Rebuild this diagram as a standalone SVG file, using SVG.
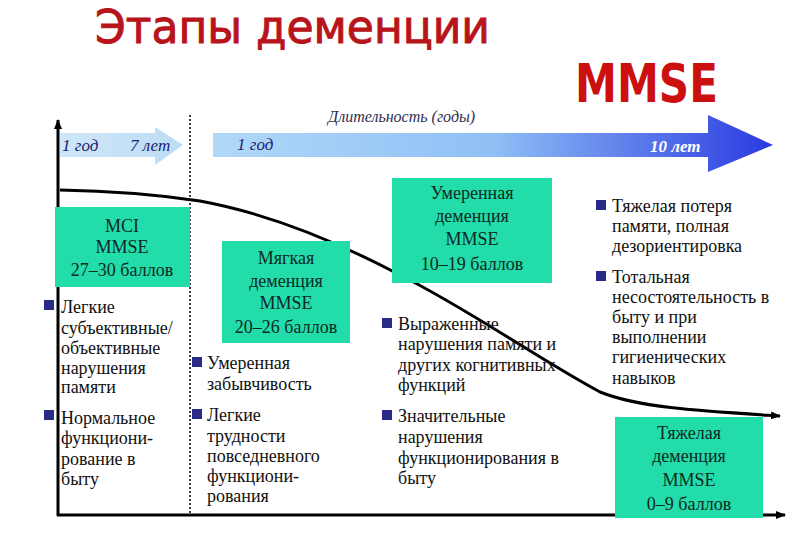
<svg xmlns="http://www.w3.org/2000/svg" width="810" height="540" viewBox="0 0 810 540">
<defs>
<style>
.t{font-family:'Liberation Serif','Tinos','DejaVu Serif',serif;font-size:18px;fill:#111}
.bx{fill:#22dcaa}
.bt{font-family:'Liberation Serif','Tinos','DejaVu Serif',serif;font-size:18px;fill:#0c2a22;text-anchor:middle}
.it{font-family:'Liberation Serif','Tinos','DejaVu Serif',serif;font-style:italic;font-size:17px;fill:#1c2070}
.bul{fill:#2a2a88}
.ax{stroke:#000;stroke-width:3;fill:none}
</style>
<linearGradient id="g1" x1="0" y1="0" x2="1" y2="0">
<stop offset="0" stop-color="#b0d8f8"/>
<stop offset="0.5" stop-color="#90bff5"/>
<stop offset="1" stop-color="#2a3ae0"/>
</linearGradient>
<linearGradient id="g2" x1="0" y1="0" x2="1" y2="0">
<stop offset="0" stop-color="#cfe6f8"/>
<stop offset="1" stop-color="#bcdcf4"/>
</linearGradient>
<marker id="ah" markerWidth="10" markerHeight="8" refX="9" refY="4" orient="auto" markerUnits="userSpaceOnUse">
<path d="M0,0 L10,4 L0,8 Z" fill="#000"/>
</marker>
</defs>
<rect width="810" height="540" fill="#fff"/>
<g id="title">
<text x="95" y="43" font-family="DejaVu Sans, sans-serif" font-size="46" fill="#b8141c" stroke="#b8141c" stroke-width="1" textLength="395" lengthAdjust="spacingAndGlyphs">Этапы деменции</text>
<text x="575" y="102" font-family="DejaVu Sans, sans-serif" font-weight="bold" font-size="54" fill="#cc1010" textLength="143" lengthAdjust="spacingAndGlyphs">MMSE</text>
</g>
<g id="timeline">
<path d="M60,133 H155 V127 L183,145 L155,165 V157 H60 Z" fill="url(#g2)"/>
<text class="it" x="62" y="151">1 год</text>
<text class="it" x="130" y="151">7 лет</text>
<text x="328" y="122" font-family="Liberation Serif, Tinos, DejaVu Serif, serif" font-style="italic" font-size="16" fill="#303050">Длительность (годы)</text>
<path d="M213,133 H708 V115 L773,145 L708,172 V157 H213 Z" fill="url(#g1)"/>
<text class="it" x="237" y="150">1 год</text>
<text x="650" y="152" font-family="Liberation Serif, Tinos, DejaVu Serif, serif" font-style="italic" font-weight="bold" font-size="17" fill="#fff">10 лет</text>
</g>
<g id="connectors">
<line class="ax" x1="58" y1="516" x2="58" y2="120" marker-end="url(#ah)"/>
<line class="ax" x1="57" y1="515" x2="785" y2="515" marker-end="url(#ah)"/>
<line x1="190" y1="115" x2="190" y2="515" stroke="#000" stroke-width="1.5" stroke-dasharray="2,2"/>
<path class="ax" d="M60,190 C120,191 160,195 200,201 C260,212 330,238 400,275 C470,310 540,360 600,392 C640,408 700,411 780,416" marker-end="url(#ah)"/>
</g>
<g id="mci">
<rect class="bx" x="55" y="207" width="135" height="80"/>
<text class="bt" x="122" y="232">MCI</text>
<text class="bt" x="122" y="253">MMSE</text>
<text class="bt" x="122" y="276">27–30 баллов</text>
</g>
<g id="mild">
<rect class="bx" x="222" y="241" width="128" height="102"/>
<text class="bt" x="286" y="264">Мягкая</text>
<text class="bt" x="286" y="287">деменция</text>
<text class="bt" x="286" y="309">MMSE</text>
<text class="bt" x="286" y="333">20–26 баллов</text>
</g>
<g id="moderate">
<rect class="bx" x="392" y="178" width="160" height="105"/>
<text class="bt" x="472" y="199">Умеренная</text>
<text class="bt" x="472" y="222">деменция</text>
<text class="bt" x="472" y="245">MMSE</text>
<text class="bt" x="472" y="270">10–19 баллов</text>
</g>
<g id="severe">
<rect class="bx" x="615" y="417" width="148" height="101"/>
<text class="bt" x="689" y="439">Тяжелая</text>
<text class="bt" x="689" y="462">деменция</text>
<text class="bt" x="689" y="486">MMSE</text>
<text class="bt" x="689" y="510">0–9 баллов</text>
</g>
<g id="col1">
<rect class="bul" x="44" y="300" width="10" height="10"/>
<text class="t" x="61" y="313">Легкие</text>
<text class="t" x="61" y="334">субъективные/</text>
<text class="t" x="61" y="354">объективные</text>
<text class="t" x="61" y="374">нарушения</text>
<text class="t" x="61" y="393">памяти</text>
<rect class="bul" x="44" y="410" width="10" height="10"/>
<text class="t" x="61" y="424">Нормальное</text>
<text class="t" x="61" y="444">функциони-</text>
<text class="t" x="61" y="465">рование в</text>
<text class="t" x="61" y="485">быту</text>
</g>
<g id="col2">
<rect class="bul" x="192" y="357" width="10" height="10"/>
<text class="t" x="207" y="369">Умеренная</text>
<text class="t" x="207" y="390">забывчивость</text>
<rect class="bul" x="192" y="409" width="10" height="10"/>
<text class="t" x="207" y="421">Легкие</text>
<text class="t" x="207" y="442">трудности</text>
<text class="t" x="207" y="462">повседневного</text>
<text class="t" x="207" y="482">функциони-</text>
<text class="t" x="207" y="502">рования</text>
</g>
<g id="col3">
<rect class="bul" x="382" y="318" width="10" height="10"/>
<text class="t" x="398" y="330">Выраженные</text>
<text class="t" x="398" y="350">нарушения памяти и</text>
<text class="t" x="398" y="371">других когнитивных</text>
<text class="t" x="398" y="391">функций</text>
<rect class="bul" x="382" y="410" width="10" height="10"/>
<text class="t" x="398" y="422">Значительные</text>
<text class="t" x="398" y="443">нарушения</text>
<text class="t" x="398" y="464">функционирования в</text>
<text class="t" x="398" y="484">быту</text>
</g>
<g id="col4">
<rect class="bul" x="596" y="200" width="10" height="10"/>
<text class="t" x="612" y="212">Тяжелая потеря</text>
<text class="t" x="612" y="232">памяти, полная</text>
<text class="t" x="612" y="252">дезориентировка</text>
<rect class="bul" x="596" y="271" width="10" height="10"/>
<text class="t" x="612" y="283">Тотальная</text>
<text class="t" x="612" y="303">несостоятельность в</text>
<text class="t" x="612" y="323">быту и при</text>
<text class="t" x="612" y="343">выполнении</text>
<text class="t" x="612" y="363">гигиенических</text>
<text class="t" x="612" y="384">навыков</text>
</g>
</svg>
